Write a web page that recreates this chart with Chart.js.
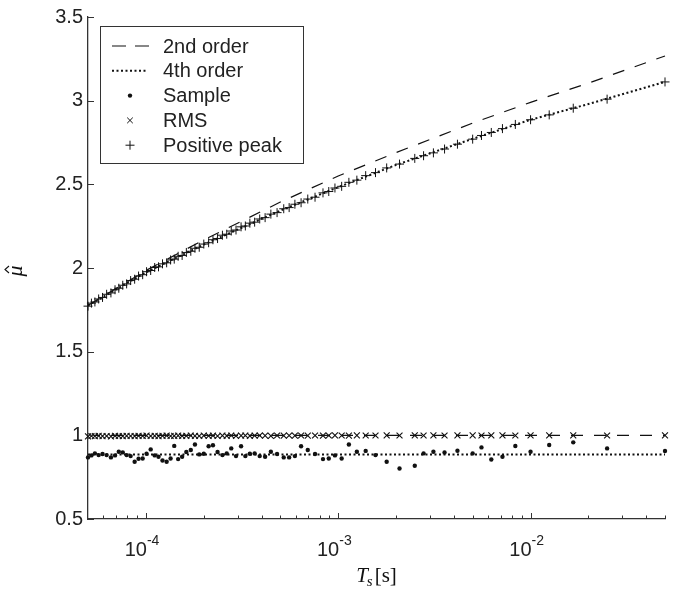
<!DOCTYPE html>
<html>
<head>
<meta charset="utf-8">
<script src="https://cdn.jsdelivr.net/npm/chart.js@4.4.0/dist/chart.umd.min.js"></script>
<style>
  html, body { margin: 0; padding: 0; background: #fff; }
</style>
</head>
<body>
<canvas id="myChart" width="681" height="592"></canvas>
<script>
// sampling periods Ts [s], ascending
const ts = [
  5.00e-5, 5.21e-5, 5.43e-5, 5.68e-5, 5.95e-5, 6.25e-5, 6.58e-5, 6.91e-5, 7.23e-5, 7.58e-5,
  7.94e-5, 8.33e-5, 8.74e-5, 9.16e-5, 9.62e-5, 1.008e-4, 1.059e-4, 1.111e-4, 1.163e-4, 1.220e-4,
  1.282e-4, 1.344e-4, 1.404e-4, 1.471e-4, 1.543e-4, 1.623e-4, 1.712e-4, 1.799e-4, 1.894e-4, 2.000e-4,
  2.119e-4, 2.232e-4, 2.358e-4, 2.500e-4, 2.632e-4, 2.778e-4, 2.941e-4, 3.125e-4, 3.289e-4, 3.472e-4,
  3.676e-4, 3.906e-4, 4.167e-4, 4.464e-4, 4.808e-4, 5.208e-4, 5.556e-4, 5.952e-4, 6.410e-4, 6.944e-4,
  7.576e-4, 8.333e-4, 8.929e-4, 9.615e-4, 1.042e-3, 1.136e-3, 1.250e-3, 1.389e-3, 1.5625e-3,
  1.786e-3, 2.083e-3, 2.5e-3, 2.778e-3, 3.125e-3, 3.571e-3, 4.167e-3, 5e-3, 5.556e-3, 6.25e-3,
  7.143e-3, 8.333e-3, 0.01, 0.0125, 0.01667, 0.025, 0.05
];
const sampleMu = [
  0.868, 0.880, 0.892, 0.882, 0.888, 0.882, 0.868, 0.880, 0.902, 0.898,
  0.882, 0.876, 0.842, 0.860, 0.862, 0.890, 0.916, 0.880, 0.872, 0.850,
  0.842, 0.862, 0.937, 0.858, 0.872, 0.900, 0.912, 0.945, 0.886, 0.890,
  0.935, 0.941, 0.900, 0.882, 0.892, 0.922, 0.876, 0.935, 0.876, 0.890,
  0.892, 0.876, 0.872, 0.902, 0.888, 0.868, 0.868, 0.876, 0.935, 0.912,
  0.888, 0.858, 0.862, 0.880, 0.862, 0.945, 0.902, 0.907, 0.882,
  0.842, 0.802, 0.818, 0.892, 0.902, 0.898, 0.908, 0.892, 0.928, 0.856,
  0.872, 0.936, 0.902, 0.942, 0.958, 0.922, 0.906
];
const rmsMu = [
  0.994, 0.996, 0.995, 0.997, 0.995, 0.996, 0.994, 0.997, 0.996, 0.995,
  0.997, 0.996, 0.995, 0.997, 0.996, 0.998, 0.996, 0.997, 0.995, 0.997,
  0.998, 0.996, 0.997, 0.998, 0.996, 0.997, 0.998, 0.997, 0.996, 0.998,
  0.997, 0.998, 0.996, 0.998, 0.997, 0.999, 0.997, 0.998, 0.999, 0.997,
  0.998, 0.999, 0.998, 0.997, 0.999, 0.998, 0.999, 0.998, 0.999, 0.998,
  0.999, 0.998, 0.999, 1.000, 0.999, 0.998, 1.000, 0.999, 0.999,
  1.000, 0.999, 1.000, 0.999, 1.000, 0.999, 1.000, 1.000, 0.999, 1.000,
  1.000, 0.999, 1.000, 1.000, 1.000, 0.999, 1.000
];
const peakMu = [
  1.772, 1.790, 1.797, 1.815, 1.824, 1.843, 1.851, 1.870, 1.879, 1.897,
  1.905, 1.925, 1.933, 1.952, 1.960, 1.978, 1.985, 2.003, 2.007, 2.025,
  2.031, 2.048, 2.053, 2.070, 2.075, 2.093, 2.100, 2.118, 2.124, 2.143,
  2.151, 2.169, 2.176, 2.196, 2.202, 2.221, 2.227, 2.246, 2.251, 2.268,
  2.274, 2.293, 2.301, 2.322, 2.331, 2.354, 2.361, 2.381, 2.390, 2.412,
  2.423, 2.449, 2.457, 2.478, 2.488, 2.512, 2.525, 2.552, 2.570,
  2.598, 2.621, 2.655, 2.671, 2.688, 2.711, 2.740, 2.770, 2.792, 2.810,
  2.833, 2.858, 2.886, 2.915, 2.955, 3.009, 3.112
];

// theoretical curves
const curveTs = [5e-5, 1e-4, 2e-4, 5e-4, 1e-3, 2e-3, 5e-3, 1e-2, 2e-2, 5e-2];
const order2Peak = [1.776, 1.985, 2.168, 2.394, 2.550, 2.690, 2.866, 2.990, 3.105, 3.267];
const order4Peak = [1.776, 1.974, 2.140, 2.343, 2.483, 2.616, 2.772, 2.886, 2.980, 3.112];
const rangeTs = [5e-5, 5e-2];
const order2Rms = [1.0, 1.0];
const order4Sample = [0.886, 0.886];

const yTicks = [0.5, 1, 1.5, 2, 2.5, 3, 3.5];
const xTickExp = [-4, -3, -2];
const legendNames = ['2nd order', '4th order', 'Sample', 'RMS', 'Positive peak'];

const sans = "'Liberation Sans', Arial, Helvetica, sans-serif";
const serif = "'Liberation Serif', 'DejaVu Serif', serif";
const ink = '#111';

function pts(xs, ys) {
  return xs.map((x, i) => ({ x: x, y: ys[i] }));
}

function drawMarker(ctx, kind, cx, cy) {
  ctx.beginPath();
  if (kind === 'dot') {
    ctx.arc(cx, cy, 2.2, 0, Math.PI * 2);
    ctx.fill();
    return;
  }
  if (kind === 'x') {
    const r = 2.8;
    ctx.moveTo(cx - r, cy - r); ctx.lineTo(cx + r, cy + r);
    ctx.moveTo(cx - r, cy + r); ctx.lineTo(cx + r, cy - r);
  } else {
    const r = 4.5;
    ctx.moveTo(cx - r, cy); ctx.lineTo(cx + r, cy);
    ctx.moveTo(cx, cy - r); ctx.lineTo(cx, cy + r);
  }
  ctx.stroke();
}

const matlabAxes = {
  id: 'matlabAxes',
  afterDraw(chart) {
    const { ctx, chartArea: a } = chart;
    const x = chart.scales.x, y = chart.scales.y;
    ctx.save();
    ctx.strokeStyle = '#333';
    ctx.lineWidth = 1;

    // inward ticks on the left axis
    yTicks.forEach(v => {
      const py = Math.round(y.getPixelForValue(v)) + 0.5;
      ctx.beginPath();
      ctx.moveTo(a.left, py);
      ctx.lineTo(a.left + 6, py);
      ctx.stroke();
    });
    // inward major/minor ticks on the bottom axis
    for (let e = -5; e <= -2; e++) {
      for (let m = 1; m <= 9; m++) {
        const v = m * Math.pow(10, e);
        if (v <= x.min * 1.001 || v > x.max * 1.001) continue;
        const px = Math.round(x.getPixelForValue(v)) + 0.5;
        ctx.beginPath();
        ctx.moveTo(px, a.bottom);
        ctx.lineTo(px, a.bottom - (m === 1 ? 6 : 3.5));
        ctx.stroke();
      }
    }

    // x tick labels 10^n
    ctx.fillStyle = '#222';
    ctx.textBaseline = 'alphabetic';
    xTickExp.forEach(e => {
      const px = x.getPixelForValue(Math.pow(10, e));
      ctx.font = '20px ' + sans;
      ctx.textAlign = 'right';
      ctx.fillText('10', px + 1, a.bottom + 37);
      ctx.font = '14px ' + sans;
      ctx.textAlign = 'left';
      ctx.fillText(String(e), px + 1, a.bottom + 26);
    });

    // x title: T_s[s]
    ctx.fillStyle = ink;
    const cx = (a.left + a.right) / 2;
    const base = 582;
    ctx.font = 'italic 21px ' + serif;
    const wT = ctx.measureText('T').width;
    ctx.font = 'italic 15px ' + serif;
    const wS = ctx.measureText('s').width;
    ctx.font = '21px ' + serif;
    const wB = ctx.measureText('[s]').width;
    let tx = cx - (wT + wS + 1 + wB) / 2;
    ctx.textAlign = 'left';
    ctx.font = 'italic 21px ' + serif;
    ctx.fillText('T', tx, base);
    tx += wT;
    ctx.font = 'italic 15px ' + serif;
    ctx.fillText('s', tx - 1, base + 4);
    tx += wS + 1;
    ctx.font = '21px ' + serif;
    ctx.fillText('[s]', tx, base);

    // y title: mu with a hat, rotated like a MATLAB ylabel
    ctx.save();
    ctx.translate(22, (a.top + a.bottom) / 2 + 3);
    ctx.rotate(-Math.PI / 2);
    ctx.textAlign = 'center';
    ctx.font = 'italic 22px ' + serif;
    ctx.fillText('\u03bc', 0, 0);
    ctx.strokeStyle = ink;
    ctx.lineWidth = 1.1;
    ctx.beginPath();
    ctx.moveTo(-2, -13);
    ctx.lineTo(1.5, -17);
    ctx.lineTo(5, -13);
    ctx.stroke();
    ctx.restore();

    // legend box
    const lx = 100.5, ly = 26.5, lw = 203, lh = 137;
    ctx.fillStyle = '#fff';
    ctx.fillRect(lx, ly, lw, lh);
    ctx.strokeStyle = '#333';
    ctx.lineWidth = 1;
    ctx.strokeRect(lx, ly, lw, lh);
    ctx.font = '20px ' + sans;
    ctx.textAlign = 'left';
    ctx.textBaseline = 'middle';
    legendNames.forEach((name, i) => {
      const ry = 46 + i * 24.8;
      ctx.strokeStyle = ink;
      ctx.fillStyle = ink;
      if (i === 0) {
        ctx.lineWidth = 1.2;
        ctx.setLineDash([14, 9]);
        ctx.beginPath(); ctx.moveTo(112, ry); ctx.lineTo(150, ry); ctx.stroke();
      } else if (i === 1) {
        ctx.lineWidth = 2;
        ctx.setLineDash([2, 2.5]);
        ctx.beginPath(); ctx.moveTo(112, ry); ctx.lineTo(148, ry); ctx.stroke();
      } else {
        ctx.setLineDash([]);
        ctx.lineWidth = 1;
        drawMarker(ctx, ['dot', 'x', 'plus'][i - 2], 130, ry);
      }
      ctx.setLineDash([]);
      ctx.fillStyle = '#222';
      ctx.fillText(name, 163, ry + 1);
    });
    ctx.restore();
  }
};

document.addEventListener('DOMContentLoaded', function () {
  const ctx = document.getElementById('myChart').getContext('2d');
  new Chart(ctx, {
    type: 'scatter',
    data: {
      datasets: [
        {
          label: 'Positive peak',
          data: pts(ts, peakMu),
          pointStyle: 'cross',
          pointRadius: 4.5,
          borderColor: ink,
          borderWidth: 1,
          clip: false
        },
        {
          label: 'RMS',
          data: pts(ts, rmsMu),
          pointStyle: 'crossRot',
          pointRadius: 4.2,
          borderColor: ink,
          borderWidth: 1.1,
          clip: false
        },
        {
          label: 'Sample',
          data: pts(ts, sampleMu),
          pointStyle: 'circle',
          pointRadius: 2.2,
          backgroundColor: ink,
          borderWidth: 0,
          clip: false
        },
        {
          label: '4th order',
          type: 'line',
          data: pts(curveTs, order4Peak).concat([{ x: 5e-2, y: null }], pts(rangeTs, order4Sample)),
          borderColor: ink,
          borderWidth: 2,
          borderDash: [2, 2.5],
          pointRadius: 0,
          fill: false,
          spanGaps: false,
          tension: 0,
          clip: false
        },
        {
          label: '2nd order',
          type: 'line',
          data: pts(curveTs, order2Peak).concat([{ x: 5e-2, y: null }], pts(rangeTs, order2Rms)),
          borderColor: ink,
          borderWidth: 1.2,
          borderDash: [12, 11],
          pointRadius: 0,
          fill: false,
          spanGaps: false,
          tension: 0,
          clip: false
        }
      ]
    },
    options: {
      responsive: false,
      animation: false,
      layout: { padding: { top: 15, right: 16, left: 0, bottom: 0 } },
      plugins: {
        legend: { display: false },
        tooltip: { enabled: false }
      },
      scales: {
        x: {
          type: 'logarithmic',
          min: 5e-5,
          max: 5e-2,
          ticks: { display: false },
          grid: { display: false, drawTicks: false },
          border: { display: true, color: '#333', width: 1.3 },
          afterFit: function (s) { s.height = 73; }
        },
        y: {
          type: 'linear',
          min: 0.5,
          max: 3.5,
          ticks: {
            stepSize: 0.5,
            padding: 5,
            color: '#222',
            font: { family: sans, size: 20 },
            callback: function (v) { return String(v); }
          },
          grid: { display: false, drawTicks: false },
          border: { display: true, color: '#333', width: 1.3 },
          afterFit: function (s) { s.width = 88; }
        }
      }
    },
    plugins: [matlabAxes]
  });
});
</script>
</body>
</html>
